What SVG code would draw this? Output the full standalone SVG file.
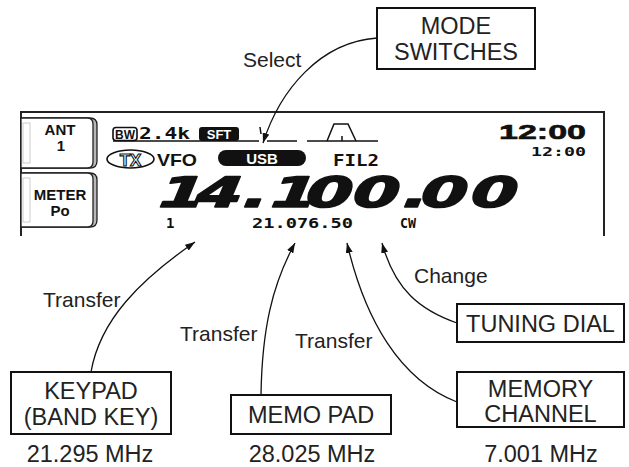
<svg xmlns="http://www.w3.org/2000/svg" width="629" height="467" viewBox="0 0 629 467">
<style>
.lbl{font-family:"Liberation Sans",Arial,sans-serif;font-size:21px;fill:#222}
.bt{font-family:"Liberation Sans",Arial,sans-serif;font-size:23.5px;fill:#222;text-anchor:middle}
.box{fill:#fff;stroke:#111;stroke-width:2}
.lcd{font-family:"Liberation Sans",Arial,sans-serif;font-weight:bold;fill:#111}
.mono{font-family:"DejaVu Sans Mono",monospace;font-weight:bold;fill:#111}
.conn{fill:none;stroke:#111;stroke-width:1.3;marker-end:url(#ah)}
.frame{fill:none;stroke:#222;stroke-width:2}
.btn-o{fill:#b8b8b8;stroke:#222;stroke-width:1.3}
.btn-i{fill:#fff;stroke:#222;stroke-width:1.3}
</style>
<defs>
<marker id="ah" viewBox="0 0 10 7" refX="10" refY="3.5" markerWidth="10" markerHeight="7" orient="auto" markerUnits="userSpaceOnUse">
<path d="M0,0 L10,3.5 L0,7 z" fill="#111"/>
</marker>
</defs>
<rect width="629" height="467" fill="#fff"/>

<g id="display">
<path class="frame" d="M21,236 V112 H604 V236"/>
<g id="btn-ant">
<path class="btn-o" d="M21,118 H90 Q97,118 97,125 V161 Q97,168 90,168 H21"/>
<path class="btn-i" d="M21,118 H87 Q93,118 93,124 V162 Q93,168 87,168 H21 Z"/>
<rect x="23" y="123" width="7" height="40" fill="none" stroke="#ccc"/>
<text class="lcd" x="60" y="135" font-size="15" text-anchor="middle">ANT</text>
<text class="lcd" x="61" y="151" font-size="15" text-anchor="middle">1</text>
</g>
<g id="btn-meter">
<path class="btn-o" d="M21,173 H90 Q97,173 97,180 V220 Q97,227 90,227 H21"/>
<path class="btn-i" d="M21,173 H87 Q93,173 93,179 V221 Q93,227 87,227 H21 Z"/>
<rect x="23" y="178" width="7" height="44" fill="none" stroke="#ccc"/>
<text class="lcd" x="60" y="200" font-size="15" text-anchor="middle">METER</text>
<text class="lcd" x="60" y="216" font-size="15" text-anchor="middle">Po</text>
</g>
<g id="top-row">
<path d="M113,141 H259 M267,141 H297 M307,141 H378" stroke="#111" stroke-width="1.5" fill="none"/>
<path d="M260,127 L261,134" stroke="#111" stroke-width="1.5"/>
<rect x="113" y="127.5" width="24" height="13" rx="3" fill="#fff" stroke="#111" stroke-width="1.6"/>
<text class="lcd" x="125" y="138.5" font-size="12" text-anchor="middle">BW</text>
<text class="mono" x="139" y="139" font-size="15" textLength="51" lengthAdjust="spacingAndGlyphs">2.4k</text>
<rect x="199" y="127" width="40" height="14" rx="3" fill="#111"/>
<text class="lcd" x="219" y="139" font-size="13" text-anchor="middle" style="fill:#fff">SFT</text>
<path d="M327,141 L334,124 H348 L356,141 M342,136 V141" fill="none" stroke="#111" stroke-width="1.5"/>
</g>
<g id="clock">
<text class="lcd" x="499" y="139" font-size="21" textLength="87" lengthAdjust="spacingAndGlyphs" stroke="#111" stroke-width="0.6">12:00</text>
<text class="mono" x="531" y="156" font-size="13" textLength="55" lengthAdjust="spacingAndGlyphs">12:00</text>
</g>
<g id="mode-row">
<ellipse cx="130.5" cy="159" rx="23.5" ry="9" fill="#fff" stroke="#111" stroke-width="1.6"/>
<text x="130.5" y="165.5" font-family="Liberation Sans, Arial, sans-serif" font-weight="bold" font-size="17" text-anchor="middle" fill="#fff" stroke="#111" stroke-width="1.1">TX</text>
<text class="lcd" x="157" y="166" font-size="17" textLength="40" lengthAdjust="spacingAndGlyphs">VFO</text>
<rect x="218" y="150" width="88" height="16" rx="8" fill="#111"/>
<text class="lcd" x="262" y="164" font-size="15" text-anchor="middle" style="fill:#fff">USB</text>
<text class="mono" x="333" y="166" font-size="16" textLength="46" lengthAdjust="spacingAndGlyphs">FIL2</text>
</g>
<g id="frequency">
<text transform="translate(0,207) skewX(-6) scale(1.6,1)" y="0" x="98.75 121.9 151.25 168.75 190.6 220 251.25 262.5 293.75" font-family="DejaVu Sans, sans-serif" font-weight="bold" font-style="italic" font-size="42" fill="#111" stroke="#111" stroke-width="1.5" stroke-linejoin="round">14.100.00</text>
</g>
<g id="sub-row">
<text class="mono" x="166" y="228" font-size="14">1</text>
<text class="mono" x="252" y="228" font-size="14" textLength="101" lengthAdjust="spacingAndGlyphs">21.076.50</text>
<text class="mono" x="400" y="228" font-size="14" textLength="16" lengthAdjust="spacingAndGlyphs">CW</text>
</g>
</g>

<g id="mode-switches">
<rect class="box" x="377" y="8" width="158" height="61"/>
<text class="bt" x="456" y="34">MODE</text>
<text class="bt" x="456" y="60">SWITCHES</text>
</g>
<g id="keypad">
<rect class="box" x="11" y="372" width="160" height="62"/>
<text class="bt" x="91" y="399">KEYPAD</text>
<text class="bt" x="91" y="425">(BAND KEY)</text>
<text class="bt" x="90" y="462">21.295 MHz</text>
</g>
<g id="memo-pad">
<rect class="box" x="231" y="395" width="160" height="39"/>
<text class="bt" x="311" y="423">MEMO PAD</text>
<text class="bt" x="312" y="462">28.025 MHz</text>
</g>
<g id="tuning-dial">
<rect class="box" x="457" y="304" width="167" height="38"/>
<text class="bt" x="540.5" y="332">TUNING DIAL</text>
</g>
<g id="memory-channel">
<rect class="box" x="457" y="372" width="167" height="55"/>
<text class="bt" x="540.5" y="397">MEMORY</text>
<text class="bt" x="540.5" y="422">CHANNEL</text>
<text class="bt" x="541" y="462">7.001 MHz</text>
</g>

<g id="connectors">
<path class="conn" d="M377,38 C320,42 280,90 263,143"/>
<path class="conn" d="M91,372 C100,320 140,280 195,242"/>
<path class="conn" d="M261,395 C262,330 272,285 295,243"/>
<path class="conn" d="M457,402 C400,380 365,320 347,243"/>
<path class="conn" d="M457,323 C420,310 395,290 382,243"/>
<text class="lbl" x="243" y="67">Select</text>
<text class="lbl" x="43" y="307">Transfer</text>
<text class="lbl" x="180" y="341">Transfer</text>
<text class="lbl" x="295" y="348">Transfer</text>
<text class="lbl" x="414" y="283">Change</text>
</g>
</svg>
